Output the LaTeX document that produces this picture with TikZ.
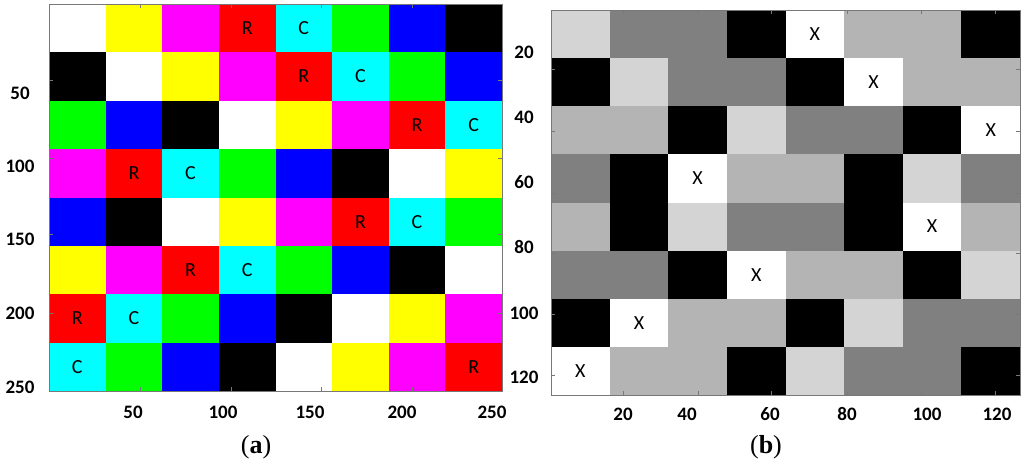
\documentclass[tikz,border=0pt]{standalone}
\usepackage{fontspec}
\setmainfont{Liberation Serif}
\newfontfamily\calfont{Carlito}
\definecolor{pW}{RGB}{255,255,255}
\definecolor{pY}{RGB}{255,255,0}
\definecolor{pM}{RGB}{255,0,255}
\definecolor{pR}{RGB}{255,0,0}
\definecolor{pC}{RGB}{0,255,255}
\definecolor{pG}{RGB}{0,255,0}
\definecolor{pB}{RGB}{0,0,255}
\definecolor{pK}{RGB}{0,0,0}
\definecolor{gL}{RGB}{212,212,212}
\definecolor{gM}{RGB}{180,180,180}
\definecolor{gD}{RGB}{128,128,128}
\definecolor{gK}{RGB}{0,0,0}
\definecolor{gW}{RGB}{255,255,255}
\definecolor{framegray}{RGB}{120,120,120}
\tikzset{
  cellletter/.style={font=\calfont\fontsize{20}{20}\selectfont, text=black, inner sep=0pt},
  ticklabel/.style={font=\calfont\bfseries\fontsize{19}{19}\selectfont, text=black, inner sep=0pt},
  panellabel/.style={font=\fontsize{26}{26}\selectfont, inner sep=0pt},
  frameline/.style={draw=framegray, line width=1pt},
  tickline/.style={draw=framegray, line width=0.8pt}
}
\begin{document}
\begin{tikzpicture}[x=1pt,y=-1pt]
\useasboundingbox (0,0) rectangle (1024,467);
% ---------- panel (a) ----------
\def\axo{49}\def\ayo{4}\def\aw{56.625}\def\ah{48.375}
\foreach \row [count=\r] in {{W,Y,M,R,C,G,B,K},{K,W,Y,M,R,C,G,B},{G,B,K,W,Y,M,R,C},{M,R,C,G,B,K,W,Y},{B,K,W,Y,M,R,C,G},{Y,M,R,C,G,B,K,W},{R,C,G,B,K,W,Y,M},{C,G,B,K,W,Y,M,R}}{
  \foreach \c [count=\k] in \row {
    \fill[fill=p\c] ({\axo+(\k-1)*\aw},{\ayo+(\r-1)*\ah}) rectangle ({\axo+\k*\aw+0.4},{\ayo+\r*\ah+0.4});
  }
}
\foreach \r/\k/\t [count=\i] in {1/4/R,1/5/C,2/5/R,2/6/C,3/7/R,3/8/C,4/2/R,4/3/C,5/6/R,5/7/C,6/3/R,6/4/C,7/1/R,7/2/C,8/8/R,8/1/C}{
  \node[cellletter] (al\i) at ({\axo+(\k-0.5)*\aw},{\ayo+(\r-0.5)*\ah}) {\t};
}
\draw[frameline] (49,4) rectangle (502,391);
\foreach \tx in {140,231,321,412}{
  \draw[tickline] (\tx,4) -- (\tx,8);
  \draw[tickline] (\tx,391) -- (\tx,387);
}
\foreach \ty in {80,158,234,313}{
  \draw[tickline] (49,\ty) -- (53,\ty);
  \draw[tickline] (502,\ty) -- (498,\ty);
}
\foreach \v/\ty in {50/93,100/166,150/239,200/313,250/387}{
  \node[ticklabel] (ay\v) at (20,\ty) {\v};
}
\foreach \v/\tx in {50/133,100/223,150/310,200/402,250/492}{
  \node[ticklabel] (ax\v) at (\tx,412) {\v};
}
\node[panellabel] (lab-a) at (256,447) {(\textbf{a})};
% ---------- panel (b) ----------
\def\bxo{551}\def\byo{10}\def\bw{58.625}\def\bh{48.125}
\foreach \row [count=\r] in {{L,D,D,K,W,M,M,K},{K,L,D,D,K,W,M,M},{M,M,K,L,D,D,K,W},{D,K,W,M,M,K,L,D},{M,K,L,D,D,K,W,M},{D,D,K,W,M,M,K,L},{K,W,M,M,K,L,D,D},{W,M,M,K,L,D,D,K}}{
  \foreach \c [count=\k] in \row {
    \fill[fill=g\c] ({\bxo+(\k-1)*\bw},{\byo+(\r-1)*\bh}) rectangle ({\bxo+\k*\bw+0.4},{\byo+\r*\bh+0.4});
  }
}
\foreach \r/\k [count=\i] in {1/5,2/6,3/8,4/3,5/7,6/4,7/2,8/1}{
  \node[cellletter] (bx\i) at ({\bxo+(\k-0.5)*\bw},{\byo+(\r-0.5)*\bh}) {X};
}
\draw[frameline] (551,10) rectangle (1020,395);
\foreach \tx in {623,698,771,847,921,995}{
  \draw[tickline] (\tx,10) -- (\tx,14);
  \draw[tickline] (\tx,395) -- (\tx,391);
}
\foreach \ty in {69,131,193,253,314,375}{
  \draw[tickline] (551,\ty) -- (555,\ty);
  \draw[tickline] (1020,\ty) -- (1016,\ty);
}
\foreach \v/\ty in {20/52,40/117,60/182,80/247,100/313,120/377}{
  \node[ticklabel] (by\v) at (524,\ty) {\v};
}
\foreach \v/\tx in {20/623,40/687,60/770,80/847,100/927,120/997}{
  \node[ticklabel] (bxl\v) at (\tx,414) {\v};
}
\node[panellabel] (lab-b) at (766,447) {(\textbf{b})};
\end{tikzpicture}
\end{document}
